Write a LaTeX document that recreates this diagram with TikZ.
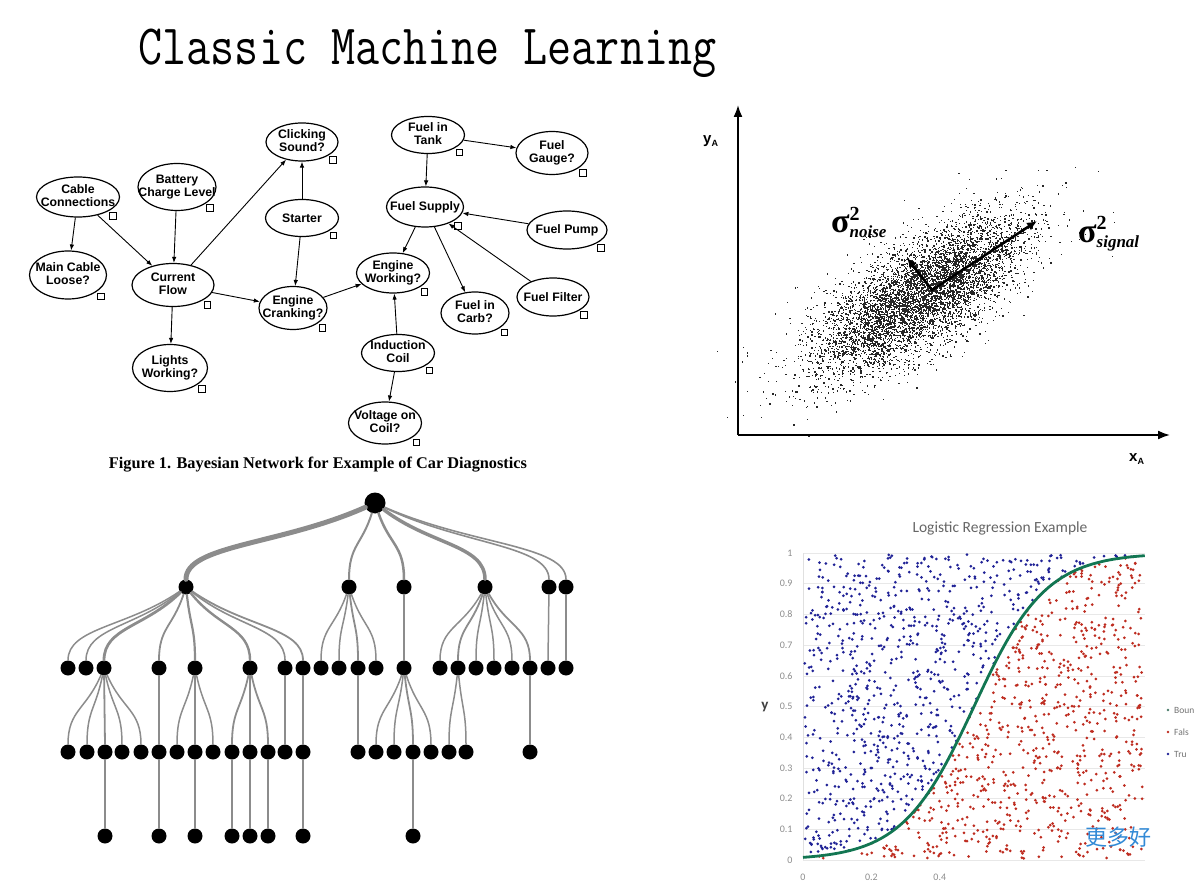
\documentclass[tikz,border=0pt]{standalone}
\usepackage{fontspec}
\usetikzlibrary{shapes.geometric,arrows.meta,calc}
\newfontfamily\arialfont{Liberation Sans}
\newfontfamily\timesfont{Liberation Serif}
\newfontfamily\calibrifont{Carlito}
\newfontfamily\cjkfont{Noto Sans CJK SC}
\definecolor{dotblue}{RGB}{32,34,150}
\definecolor{dotred}{RGB}{190,44,32}
\definecolor{sgreen}{RGB}{18,118,82}
\definecolor{wmblue}{RGB}{50,138,214}
\newcommand\twolines[2]{\makebox[0pt]{\begin{tabular}{@{}c@{}}#1\\#2\end{tabular}}}
\newcommand\oneline[1]{\makebox[0pt]{#1}}
\tikzset{bn/.style 2 args={ellipse,draw,line width=1.2pt,inner sep=0pt,minimum width=#1,minimum height=#2,font=\arialfont\bfseries\fontsize{12.3}{13}\selectfont}}
\tikzset{tag/.style={draw,fill=white,line width=0.6pt,minimum size=6.5pt,inner sep=0pt}}
\tikzset{cause/.style={line width=0.9pt,-{Latex[length=6pt,width=4.5pt]}}}
\tikzset{treedot/.style={circle,fill=black,inner sep=0pt,minimum size=15pt}}
\tikzset{branch/.style={draw=black!45,line cap=round}}
\tikzset{axis/.style={line width=1.8pt,-{Latex[length=12pt,width=9pt]}}}
\tikzset{tick/.style={inner sep=0pt,text=black!45,font=\calibrifont\fontsize{10}{10}\selectfont}}

\begin{document}
\begin{tikzpicture}[x=1pt,y=-1pt]
  \useasboundingbox (0,0) rectangle (1197,890);
  \node[anchor=base,inner sep=0pt,font=\ttfamily\fontsize{57}{60}\selectfont] (title) at (427.5,65) {\scalebox{0.82}[1]{Classic Machine Learning}};

  % bayesian network
  \node[bn={72pt}{38pt}] (cs) at (302,142) {\twolines{Clicking}{Sound?}};
  \node[bn={83pt}{40pt}] (cc) at (78,197) {\twolines{Cable}{Connections}};
  \node[bn={78pt}{47pt}] (bc) at (177,187) {\twolines{Battery}{Charge Level}};
  \node[bn={73pt}{37pt}] (st) at (302,218) {\oneline{Starter}};
  \node[bn={77pt}{48pt}] (ml) at (68,275) {\twolines{Main Cable}{Loose?}};
  \node[bn={82pt}{43pt}] (cf) at (173,285) {\twolines{Current}{Flow}};
  \node[bn={68pt}{43pt}] (ec) at (293,308) {\twolines{Engine}{Cranking?}};
  \node[bn={75pt}{47pt}] (lw) at (170,368) {\twolines{Lights}{Working?}};
  \node[bn={73pt}{37pt}] (ft) at (428,135) {\twolines{Fuel in}{Tank}};
  \node[bn={72pt}{43pt}] (fg) at (552,153) {\twolines{Fuel}{Gauge?}};
  \node[bn={77pt}{40pt}] (fs) at (425,207) {\oneline{Fuel Supply}};
  \node[bn={80pt}{38pt}] (fp) at (567,230) {\oneline{Fuel Pump}};
  \node[bn={73pt}{40pt}] (ew) at (393,273) {\twolines{Engine}{Working?}};
  \node[bn={72pt}{38pt}] (ff) at (553,297) {\oneline{Fuel Filter}};
  \node[bn={68pt}{42pt}] (fc) at (475,313) {\twolines{Fuel in}{Carb?}};
  \node[bn={73pt}{37pt}] (ic) at (398,353) {\twolines{Induction}{Coil}};
  \node[bn={73pt}{42pt}] (vc) at (385,423) {\twolines{Voltage on}{Coil?}};
  \foreach \n in {cs,cc,bc,st,ml,cf,ec,lw,ft,fg,fs,fp,ew,ff,fc,ic,vc}
    \node[tag] (\n-tag) at ([shift={(5,4)}]\n.south east) {};
  \draw[cause] (cc) -- (ml);
  \draw[cause] (cc) -- (cf);
  \draw[cause] (bc) -- (cf);
  \draw[cause] (cf) -- (cs);
  \draw[cause] (st) -- (cs);
  \draw[cause] (st) -- (ec);
  \draw[cause] (cf) -- (ec);
  \draw[cause] (cf) -- (lw);
  \draw[cause] (ec) -- (ew);
  \draw[cause] (ft) -- (fg);
  \draw[cause] (ft) -- (fs);
  \draw[cause] (fp) -- (fs);
  \draw[cause] (ff) -- (fs);
  \draw[cause] (fs) -- (ew);
  \draw[cause] (fs) -- (fc);
  \draw[cause] (ic) -- (ew);
  \draw[cause] (ic) -- (vc);
  \node[anchor=base,inner sep=0pt,font=\timesfont\bfseries\fontsize{16.3}{17}\selectfont] (cap) at (318,468) {Figure 1. Bayesian Network for Example of Car Diagnostics};

  % scatter with principal directions
  \coordinate (o) at (738,435);
  \coordinate (ytop) at (738,105);
  \coordinate (xend) at (1170,435);
  \pgfmathsetseed{7}
  \foreach \i in {1,...,6000}{
    \pgfmathsetmacro\ra{sqrt(-2*ln(max(rnd,0.0001)))}
    \pgfmathsetmacro\th{360*rnd}
    \pgfmathsetmacro\pa{62*\ra*cos(\th)}
    \pgfmathsetmacro\pb{24*\ra*sin(\th)}
    \fill[black!85] ({920+0.829*\pa+0.559*\pb},{295-0.559*\pa+0.829*\pb}) rectangle ++(1.3,1.3);
  }
  \draw[axis] (o) -- (ytop);
  \draw[axis] (o) -- (xend);
  \node[anchor=base west,inner sep=0pt,font=\arialfont\bfseries\fontsize{15}{15}\selectfont] (ya) at (703,144) {y\raisebox{-3pt}{\fontsize{9}{9}\selectfont A}};
  \node[anchor=base west,inner sep=0pt,font=\arialfont\bfseries\fontsize{15}{15}\selectfont] (xa) at (1129,461) {x\raisebox{-3pt}{\fontsize{9}{9}\selectfont A}};
  \coordinate (pc) at (932,290);
  \coordinate (sig) at (1037,221);
  \coordinate (noi) at (907,258);
  \draw[line width=2.6pt,line join=miter,{Latex[length=10pt,width=9pt]}-{Latex[length=10pt,width=9pt]}] (noi) -- (pc) -- (sig);
  \node[anchor=base west,inner sep=0pt,font=\timesfont\bfseries\fontsize{34}{34}\selectfont] (noise) at (831,233) {σ\rlap{\raisebox{12pt}{\fontsize{20}{20}\selectfont 2}}\raisebox{-5pt}{\fontsize{17}{17}\selectfont\itshape noise}};
  \node[anchor=base west,inner sep=0pt,font=\timesfont\bfseries\fontsize{34}{34}\selectfont] (signal) at (1078,243) {σ\rlap{\raisebox{13pt}{\fontsize{20}{20}\selectfont 2}}\raisebox{-5pt}{\fontsize{17}{17}\selectfont\itshape signal}};

  % tree
  \node[treedot,minimum size=21pt] (r) at (375,503) {};
  \node[treedot] (a) at (186,587) {};
  \node[treedot] (b) at (349,587) {};
  \node[treedot] (c) at (404,587) {};
  \node[treedot] (d) at (485,587) {};
  \node[treedot] (e) at (549,587) {};
  \node[treedot] (f) at (566,587) {};
  \foreach \x [count=\i] in {68,86,104,159,195,250,285,303,321,339,358,376,404,440,458,476,494,512,530,548,566}
    \node[treedot] (k\i) at (\x,668) {};
  \foreach \x [count=\i] in {68,87,105,122,141,159,177,195,213,232,250,268,285,303,358,376,394,413,431,449,466,530}
    \node[treedot] (m\i) at (\x,752) {};
  \foreach \x [count=\i] in {105,159,195,232,250,268,303,413}
    \node[treedot] (q\i) at (\x,836) {};
  \foreach \p/\c/\w in {r/a/5pt,r/b/2pt,r/c/2.5pt,r/d/3.5pt,r/e/1.6pt,r/f/1.6pt,
      a/k1/1.5pt,a/k2/1.5pt,a/k3/2.8pt,a/k4/1.8pt,a/k5/2.2pt,a/k6/2.4pt,a/k7/1.6pt,a/k8/1.8pt,
      b/k9/1.5pt,b/k10/1.5pt,b/k11/1.8pt,b/k12/1.5pt,c/k13/2.5pt,
      d/k14/1.5pt,d/k15/1.8pt,d/k16/1.5pt,d/k17/1.5pt,d/k18/1.5pt,d/k19/1.8pt,e/k20/1.5pt,f/k21/1.5pt,
      k3/m1/1.5pt,k3/m2/1.5pt,k3/m3/1.8pt,k3/m4/1.5pt,k3/m5/1.5pt,k4/m6/1.8pt,
      k5/m7/1.5pt,k5/m8/1.8pt,k5/m9/1.5pt,k6/m10/1.8pt,k6/m11/1.8pt,k6/m12/1.8pt,
      k7/m13/1.5pt,k8/m14/1.8pt,k11/m15/1.5pt,
      k13/m16/1.5pt,k13/m17/1.5pt,k13/m18/1.8pt,k13/m19/1.5pt,k15/m20/1.5pt,k15/m21/1.5pt,k19/m22/1.5pt,
      m3/q1/1.5pt,m6/q2/1.5pt,m8/q3/1.5pt,m10/q4/1.5pt,m11/q5/1.5pt,m12/q6/1.5pt,m14/q7/1.5pt,m18/q8/1.5pt}
    \draw[branch,line width=\w] (\p) .. controls ($(\p)!0.5!(\c)$) and ($(\c)!0.5!(\c|-\p)$) .. (\c);

  % logistic regression
  \node[inner sep=0pt,text=black!60,font=\calibrifont\fontsize{15.5}{16}\selectfont] (lrtitle) at (1000,528) {Logistic Regression Example};
  \begin{scope}[shift={(803,860)},x=342pt,y=307pt]
    \foreach \v in {0,1,...,10}
      \draw[black!9,line width=0.6pt] (0,\v/10) -- (1,\v/10);
    \draw[black!12,line width=0.6pt] (0,0) -- (0,1);
    \foreach \t [count=\i from 0] in {0,0.1,0.2,0.3,0.4,0.5,0.6,0.7,0.8,0.9,1}
      \node[tick,anchor=east] (yt\i) at (-0.03,\i/10) {\t};
    \foreach \t [count=\i] in {0,0.2,0.4}
      \node[tick] (xt\i) at ({(\i-1)*0.2},-0.055) {\t};
    \foreach \i in {1,...,1600}{
      \pgfmathsetmacro\pu{0.005+0.99*rnd}
      \pgfmathsetmacro\pv{0.005+0.99*rnd}
      \pgfmathsetmacro\ps{1/(1+exp(-9.5*(\pu-0.5)))}
      \ifdim\pv pt>\ps pt
        \fill[dotblue] (\pu,\pv) circle (1.5pt);
      \else
        \fill[dotred] (\pu,\pv) circle (1.5pt);
      \fi
    }
    \draw[sgreen,line width=2.8pt] plot[domain=0:1,samples=80,smooth] (\x,{1/(1+exp(-9.5*(\x-0.5)))});
  \end{scope}
  \node[inner sep=0pt,text=black!75,font=\calibrifont\bfseries\fontsize{15}{15}\selectfont] (ylab) at (765,707) {y};
  \fill[sgreen!50!gray] (1168,710) circle (1.4pt);
  \fill[dotred] (1168,732) circle (1.4pt);
  \fill[dotblue] (1168,754) circle (1.4pt);
  \node[anchor=west,inner sep=0pt,text=black!55,font=\calibrifont\fontsize{9.5}{10}\selectfont] (lgb) at (1174,710) {Boun};
  \node[anchor=west,inner sep=0pt,text=black!55,font=\calibrifont\fontsize{9.5}{10}\selectfont] (lgf) at (1174,732) {Fals};
  \node[anchor=west,inner sep=0pt,text=black!55,font=\calibrifont\fontsize{9.5}{10}\selectfont] (lgt) at (1174,754) {Tru};
  \node[inner sep=0pt,text=wmblue,font=\cjkfont\fontsize{22}{22}\selectfont] (wm) at (1118,837) {更多好};
\end{tikzpicture}
\end{document}
